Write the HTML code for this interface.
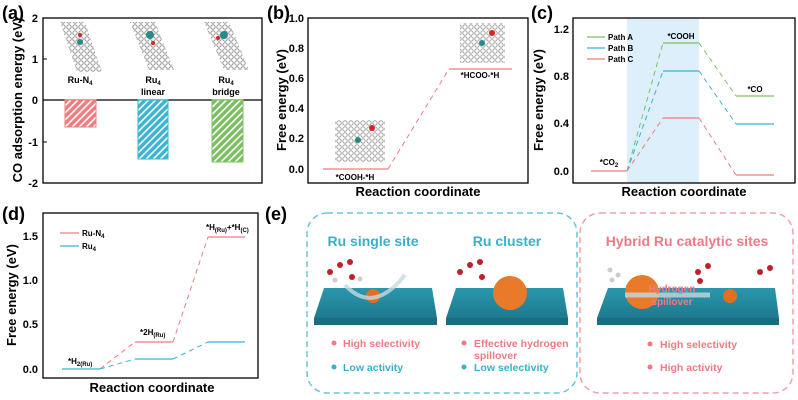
<!DOCTYPE html>
<html><head><meta charset="utf-8"><style>
body{margin:0;background:#fff}
svg{display:block;font-family:"Liberation Sans",Arial,sans-serif;font-weight:bold}
</style></head><body>
<svg width="798" height="400" viewBox="0 0 798 400" xmlns="http://www.w3.org/2000/svg">
<defs>
<pattern id="hr" width="5" height="5" patternUnits="userSpaceOnUse" patternTransform="rotate(45)"><rect width="5" height="5" fill="#f07c80"/><rect width="1.6" height="5" fill="#fff"/></pattern>
<pattern id="hb" width="5" height="5" patternUnits="userSpaceOnUse" patternTransform="rotate(45)"><rect width="5" height="5" fill="#3ab4d0"/><rect width="1.6" height="5" fill="#fff"/></pattern>
<pattern id="hg" width="5" height="5" patternUnits="userSpaceOnUse" patternTransform="rotate(45)"><rect width="5" height="5" fill="#7cbf62"/><rect width="1.6" height="5" fill="#fff"/></pattern>
<pattern id="gr" width="6" height="6" patternUnits="userSpaceOnUse"><rect width="6" height="6" fill="#fff"/><circle cx="3" cy="3" r="2.2" fill="none" stroke="#888" stroke-width="1"/></pattern>
<linearGradient id="slab" x1="0" y1="0" x2="0" y2="1"><stop offset="0" stop-color="#2a97ad"/><stop offset="1" stop-color="#1e7a8f"/></linearGradient>
</defs>

<!-- (a) -->
<text x="2" y="19" font-size="18">(a)</text>
<rect x="43" y="18" width="219" height="165" fill="none" stroke="#000" stroke-width="1.3"/>
<line x1="43" y1="100" x2="262" y2="100" stroke="#000" stroke-width="1.3"/>
<g font-size="11" text-anchor="end">
<text x="38" y="22">2</text><text x="38" y="63">1</text><text x="38" y="104">0</text><text x="38" y="146">-1</text><text x="38" y="187">-2</text></g>
<g stroke="#000"><line x1="43" y1="59" x2="47" y2="59"/><line x1="43" y1="142" x2="47" y2="142"/></g>
<text transform="translate(22,100) rotate(-90)" font-size="13" text-anchor="middle">CO adsorption energy (eV)</text>
<rect x="65" y="100" width="31" height="27" fill="url(#hr)" stroke="#f07c80"/>
<rect x="138" y="100" width="30" height="59" fill="url(#hb)" stroke="#3ab4d0"/>
<rect x="212" y="100" width="31" height="62" fill="url(#hg)" stroke="#7cbf62"/>
<g fill="url(#gr)" opacity="0.9">
<polygon points="60,22 85,22 102,72 77,72"/><polygon points="130,22 155,22 174,70 149,70"/><polygon points="204,22 229,22 249,70 224,70"/></g>
<circle cx="80" cy="42" r="3" fill="#2a8a8a"/><circle cx="80" cy="35" r="2" fill="#d22"/>
<circle cx="150" cy="35" r="4" fill="#2a8a8a"/><circle cx="153" cy="43" r="2" fill="#d22"/>
<circle cx="224" cy="35" r="4" fill="#2a8a8a"/><circle cx="218" cy="38" r="2" fill="#d22"/>
<g font-size="9" text-anchor="middle">
<text x="80" y="83">Ru-N<tspan font-size="6" dy="2">4</tspan></text>
<text x="153" y="83">Ru<tspan font-size="6" dy="2">4</tspan></text><text x="153" y="95">linear</text>
<text x="226" y="83">Ru<tspan font-size="6" dy="2">4</tspan></text><text x="226" y="95">bridge</text></g>

<!-- (b) -->
<text x="267" y="19" font-size="18">(b)</text>
<rect x="308" y="18" width="220" height="165" fill="none" stroke="#000" stroke-width="1.3"/>
<g font-size="11" text-anchor="end">
<text x="304" y="22">1.0</text><text x="304" y="52">0.8</text><text x="304" y="82">0.6</text><text x="304" y="112">0.4</text><text x="304" y="142">0.2</text><text x="304" y="173">0.0</text></g>
<text transform="translate(286,100) rotate(-90)" font-size="13" text-anchor="middle">Free energy (eV)</text>
<text x="418" y="196" font-size="13" text-anchor="middle">Reaction coordinate</text>
<line x1="323" y1="169" x2="388" y2="169" stroke="#f07c80" stroke-width="1.3"/>
<line x1="388" y1="169" x2="449" y2="69" stroke="#f07c80" stroke-dasharray="5,4"/>
<line x1="449" y1="69" x2="512" y2="69" stroke="#f07c80" stroke-width="1.3"/>
<text x="355" y="180" font-size="8" text-anchor="middle">*COOH-*H</text>
<text x="480" y="78" font-size="8" text-anchor="middle">*HCOO-*H</text>
<rect x="335" y="120" width="50" height="42" fill="url(#gr)" opacity="0.8"/>
<circle cx="358" cy="140" r="3" fill="#2a8a8a"/><circle cx="372" cy="128" r="3" fill="#d22"/>
<rect x="460" y="23" width="45" height="40" fill="url(#gr)" opacity="0.8"/>
<circle cx="482" cy="43" r="3" fill="#2a8a8a"/><circle cx="492" cy="33" r="3" fill="#d22"/>

<!-- (c) -->
<text x="531" y="19" font-size="18">(c)</text>
<rect x="627" y="18" width="72" height="165" fill="#dceffa"/>
<rect x="573" y="18" width="222" height="165" fill="none" stroke="#000" stroke-width="1.3"/>
<g font-size="11" text-anchor="end">
<text x="569" y="33">1.2</text><text x="569" y="80">0.8</text><text x="569" y="127">0.4</text><text x="569" y="175">0.0</text></g>
<text transform="translate(543,100) rotate(-90)" font-size="13" text-anchor="middle">Free energy (eV)</text>
<text x="684" y="196" font-size="13" text-anchor="middle">Reaction coordinate</text>
<line x1="591" y1="171" x2="627" y2="171" stroke="#f07c80" stroke-width="1.3"/>
<g stroke-width="1.3">
<line x1="663" y1="43" x2="699" y2="43" stroke="#7cbf62"/><line x1="736" y1="96" x2="774" y2="96" stroke="#7cbf62"/>
<line x1="663" y1="71" x2="699" y2="71" stroke="#3ab4d0"/><line x1="736" y1="124" x2="774" y2="124" stroke="#3ab4d0"/>
<line x1="663" y1="118" x2="699" y2="118" stroke="#f07c80"/><line x1="736" y1="175" x2="774" y2="175" stroke="#f07c80"/></g>
<g stroke-dasharray="5,4">
<line x1="627" y1="171" x2="663" y2="43" stroke="#7cbf62"/><line x1="699" y1="43" x2="736" y2="96" stroke="#7cbf62"/>
<line x1="627" y1="171" x2="663" y2="71" stroke="#3ab4d0"/><line x1="699" y1="71" x2="736" y2="124" stroke="#3ab4d0"/>
<line x1="627" y1="171" x2="663" y2="118" stroke="#f07c80"/><line x1="699" y1="118" x2="736" y2="175" stroke="#f07c80"/></g>
<g font-size="8">
<line x1="587" y1="37" x2="605" y2="37" stroke="#7cbf62" stroke-width="1.3"/><text x="608" y="40">Path A</text>
<line x1="587" y1="48" x2="605" y2="48" stroke="#3ab4d0" stroke-width="1.3"/><text x="608" y="51">Path B</text>
<line x1="587" y1="59" x2="605" y2="59" stroke="#f07c80" stroke-width="1.3"/><text x="608" y="62">Path C</text>
<text x="681" y="39" text-anchor="middle">*COOH</text><text x="755" y="92" text-anchor="middle">*CO</text>
<text x="609" y="165" text-anchor="middle">*CO<tspan font-size="6" dy="2">2</tspan></text></g>

<!-- (d) -->
<text x="2" y="220" font-size="18">(d)</text>
<rect x="43" y="213" width="215" height="165" fill="none" stroke="#000" stroke-width="1.3"/>
<g font-size="11" text-anchor="end">
<text x="38" y="240">1.5</text><text x="38" y="284">1.0</text><text x="38" y="328">0.5</text><text x="38" y="373">0.0</text></g>
<text transform="translate(16,295) rotate(-90)" font-size="13" text-anchor="middle">Free energy (eV)</text>
<text x="152" y="392" font-size="13" text-anchor="middle">Reaction coordinate</text>
<g stroke-width="1.3">
<line x1="62" y1="369" x2="100" y2="369" stroke="#3ab4d0"/>
<line x1="135" y1="342" x2="173" y2="342" stroke="#f07c80"/><line x1="135" y1="359" x2="173" y2="359" stroke="#3ab4d0"/>
<line x1="208" y1="237" x2="245" y2="237" stroke="#f07c80"/><line x1="208" y1="342" x2="245" y2="342" stroke="#3ab4d0"/></g>
<g stroke-dasharray="5,4">
<line x1="100" y1="369" x2="135" y2="342" stroke="#f07c80"/><line x1="173" y1="342" x2="208" y2="237" stroke="#f07c80"/>
<line x1="100" y1="369" x2="135" y2="359" stroke="#3ab4d0"/><line x1="173" y1="359" x2="208" y2="342" stroke="#3ab4d0"/></g>
<g font-size="8">
<line x1="60" y1="233" x2="79" y2="233" stroke="#f07c80" stroke-width="1.3"/><text x="82" y="236">Ru-N<tspan font-size="6" dy="2">4</tspan></text>
<line x1="60" y1="246" x2="79" y2="246" stroke="#3ab4d0" stroke-width="1.3"/><text x="82" y="249">Ru<tspan font-size="6" dy="2">4</tspan></text>
<text x="68" y="364">*H<tspan font-size="6" dy="2">2(Ru)</tspan></text>
<text x="140" y="335">*2H<tspan font-size="6" dy="2">(Ru)</tspan></text>
<text x="206" y="230">*H<tspan font-size="6" dy="2">(Ru)</tspan><tspan dy="-2">+*H</tspan><tspan font-size="6" dy="2">(C)</tspan></text></g>

<!-- (e) -->
<text x="265" y="220" font-size="18">(e)</text>
<rect x="307" y="213" width="270" height="180" rx="20" fill="none" stroke="#6cc4d8" stroke-width="1.5" stroke-dasharray="6,4"/>
<rect x="580" y="213" width="213" height="180" rx="20" fill="none" stroke="#f0a0aa" stroke-width="1.5" stroke-dasharray="6,4"/>
<g font-size="14" text-anchor="middle">
<text x="373" y="246" fill="#3ab0c8">Ru single site</text>
<text x="507" y="246" fill="#3ab0c8">Ru cluster</text>
<text x="687" y="246" fill="#ee7a84">Hybrid Ru catalytic sites</text></g>
<g fill="url(#slab)">
<polygon points="324,288 432,288 437,318 314,318"/><rect x="314" y="318" width="123" height="7" fill="#1b6c80"/>
<polygon points="456,288 563,288 568,318 446,318"/><rect x="446" y="318" width="122" height="7" fill="#1b6c80"/>
<polygon points="608,288 775,288 779,318 597,318"/><rect x="597" y="318" width="182" height="7" fill="#1b6c80"/></g>
<circle cx="373" cy="296" r="7" fill="#e07020"/>
<circle cx="510" cy="293" r="17" fill="#e87a2a"/>
<circle cx="642" cy="292" r="17" fill="#e87a2a"/>
<circle cx="730" cy="296" r="7" fill="#e07020"/>
<path d="M345 285 Q373 315 405 275" fill="none" stroke="#c8d8e0" stroke-width="4" opacity="0.8"/>
<path d="M625 295 L710 295" stroke="#c8d8e0" stroke-width="5" opacity="0.8"/>
<text x="672" y="292" font-size="10" fill="#ee7a84" text-anchor="middle">Hydrogen</text>
<text x="672" y="305" font-size="10" fill="#ee7a84" text-anchor="middle">spillover</text>
<g fill="#c0202a"><circle cx="330" cy="272" r="3"/><circle cx="340" cy="265" r="3"/><circle cx="350" cy="262" r="3"/><circle cx="352" cy="277" r="3"/><circle cx="460" cy="272" r="3"/><circle cx="470" cy="265" r="3"/><circle cx="480" cy="262" r="3"/><circle cx="482" cy="277" r="3"/><circle cx="698" cy="272" r="3"/><circle cx="708" cy="266" r="3"/><circle cx="700" cy="281" r="3"/><circle cx="760" cy="272" r="3"/><circle cx="770" cy="268" r="3"/></g>
<g fill="#ccc"><circle cx="335" cy="280" r="2.5"/><circle cx="360" cy="279" r="2.5"/><circle cx="610" cy="270" r="2.5"/><circle cx="618" cy="275" r="2.5"/><circle cx="612" cy="280" r="2.5"/></g>
<g font-size="10.5">
<circle cx="334" cy="343" r="2.5" fill="#ee7a84"/><text x="343" y="347" fill="#ee7a84">High selectivity</text>
<circle cx="334" cy="367" r="2.5" fill="#3ab0c8"/><text x="343" y="371" fill="#3ab0c8">Low activity</text>
<circle cx="464" cy="343" r="2.5" fill="#ee7a84"/><text x="474" y="347" fill="#ee7a84">Effective hydrogen</text>
<text x="474" y="359" fill="#ee7a84">spillover</text>
<circle cx="464" cy="367" r="2.5" fill="#3ab0c8"/><text x="474" y="371" fill="#3ab0c8">Low selectivity</text>
<circle cx="650" cy="344" r="2.5" fill="#ee7a84"/><text x="660" y="348" fill="#ee7a84">High selectivity</text>
<circle cx="650" cy="367" r="2.5" fill="#ee7a84"/><text x="660" y="371" fill="#ee7a84">High activity</text></g>
</svg>
</body></html>
